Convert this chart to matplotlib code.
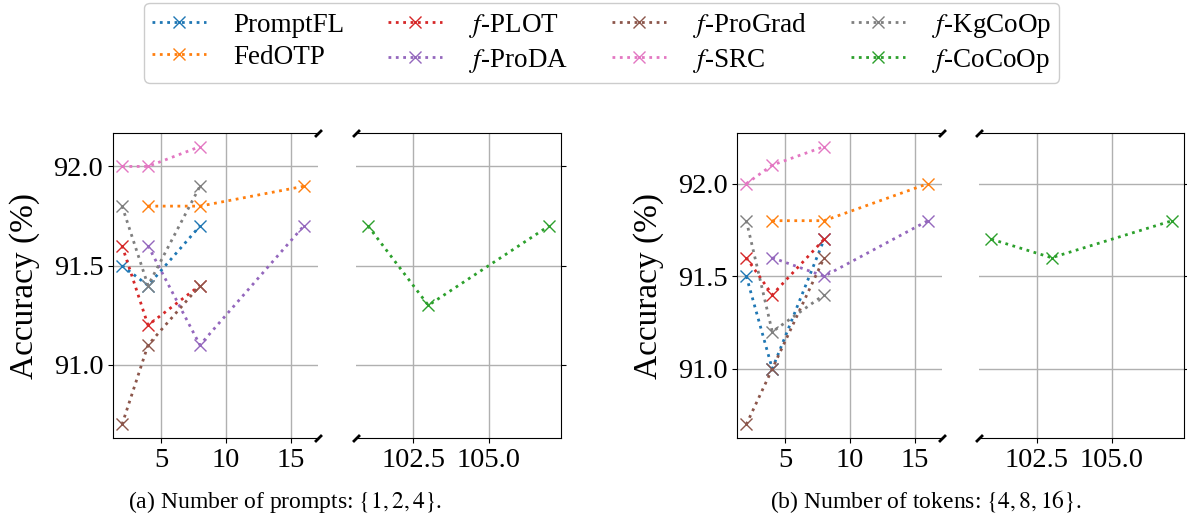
import matplotlib.pyplot as plt

plt.rcParams['font.family'] = ['Liberation Serif', 'DejaVu Serif']
plt.rcParams['mathtext.fontset'] = 'stix'

# x positions of the prompt / token settings
x_main = [2, 4, 8, 16]
x_cocoop = [101, 103, 107]

names = ['PromptFL', 'FedOTP', '$f$-PLOT', '$f$-ProDA',
         '$f$-ProGrad', '$f$-SRC', '$f$-KgCoOp', '$f$-CoCoOp']
colors = ['C0', 'C1', 'C3', 'C4', 'C5', 'C6', 'C7', 'C2']

# (a) number of prompts
a_promptfl = [91.5, 91.4, 91.7, None]
a_fedotp = [None, 91.8, 91.8, 91.9]
a_plot = [91.6, 91.2, 91.4, None]
a_proda = [None, 91.6, 91.1, 91.7]
a_prograd = [90.7, 91.1, 91.4, None]
a_src = [92.0, 92.0, 92.1, None]
a_kgcoop = [91.8, 91.4, 91.9, None]
a_cocoop = [91.7, 91.3, 91.7]

# (b) number of tokens
b_promptfl = [91.5, 91.0, 91.7, None]
b_fedotp = [None, 91.8, 91.8, 92.0]
b_plot = [91.6, 91.4, 91.7, None]
b_proda = [None, 91.6, 91.5, 91.8]
b_prograd = [90.7, 91.0, 91.6, None]
b_src = [92.0, 92.1, 92.2, None]
b_kgcoop = [91.8, 91.2, 91.4, None]
b_cocoop = [91.7, 91.6, 91.8]

a_series = [a_promptfl, a_fedotp, a_plot, a_proda, a_prograd, a_src, a_kgcoop]
b_series = [b_promptfl, b_fedotp, b_plot, b_proda, b_prograd, b_src, b_kgcoop]

fig = plt.figure(figsize=(11.87, 5.19), dpi=100)

bottom, height = 0.1555, 0.5888
panels = [
    (a_series, a_cocoop, 0.0952, 0.2999, 0.1727),
    (b_series, b_cocoop, 0.6211, 0.8250, 0.1727),
]
captions = ['(a) Number of prompts: $\\{1, 2, 4\\}$.',
            '(b) Number of tokens: $\\{4, 8, 16\\}$.']
cap_x = [0.2397, 0.7800]

handles = []
for k, (series, cocoop, l1, l2, w) in enumerate(panels):
    ax1 = fig.add_axes([l1, bottom, w, height])
    ax2 = fig.add_axes([l2, bottom, w, height], sharey=ax1)
    for ax in (ax1, ax2):
        for s, c, n in zip(series, colors[:7], names[:7]):
            xs = [x for x, v in zip(x_main, s) if v is not None]
            vs = [v for v in s if v is not None]
            h, = ax.plot(xs, vs, ':', marker='x', color=c, lw=2, ms=9, label=n)
            if k == 0 and ax is ax1:
                handles.append(h)
        h, = ax.plot(x_cocoop, cocoop, ':', marker='x', color=colors[7],
                     lw=2, ms=9, label=names[7])
        if k == 0 and ax is ax1:
            handles.append(h)
        ax.grid(True, color='#b0b0b0', lw=1)
        ax.set_axisbelow(True)
    ax1.set_xlim(1.3, 17.1)
    ax2.set_xlim(100.6, 107.4)
    ax1.set_xticks([5, 10, 15])
    ax2.set_xticks([102.5, 105.0])
    ax2.set_xticklabels(['102.5', '105.0'])
    ax1.set_yticks([91.0, 91.5, 92.0])
    ax1.spines['right'].set_visible(False)
    ax2.spines['left'].set_visible(False)
    ax2.yaxis.tick_right()
    ax2.tick_params(labelright=False)
    ax1.tick_params(labelsize=20.5)
    ax2.tick_params(labelsize=20.5)
    ax1.set_ylabel('Accuracy (%)', fontsize=24, labelpad=10)

    # break marks
    d = 1.0
    kw = dict(marker=[(-1, -d), (1, d)], markersize=5, linestyle='none',
              color='k', mec='k', mew=2, clip_on=False)
    ax1.plot([1, 1], [0, 1], transform=ax1.transAxes, **kw)
    ax2.plot([0, 0], [0, 1], transform=ax2.transAxes, **kw)

    fig.text(cap_x[k], 0.033, captions[k], ha='center', va='center', fontsize=17)

fig.legend(handles, names,
           loc='upper center', bbox_to_anchor=(0.507, 1.0), ncol=4,
           fontsize=19.5, handlelength=2.0, handletextpad=1.0,
           columnspacing=1.6, framealpha=1, borderpad=0.3,
           labelspacing=0.25, borderaxespad=0.1)

fig.savefig('out.png', dpi=100)
